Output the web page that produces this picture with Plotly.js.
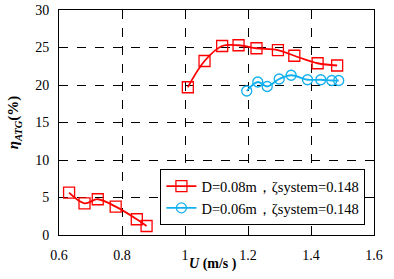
<!DOCTYPE html>
<html><head><meta charset="utf-8">
<script src="https://cdn.plot.ly/plotly-3.0.1.min.js"></script>
<style>html,body{margin:0;padding:0;background:#fff}#c{width:394px;height:279px}</style>
</head><body><div id="c"></div>
<script>
// D=0.08m series (two segments, gap between them)
const redU   = [0.632, 0.681, 0.723, 0.780, 0.847, 0.878, null, 1.009, 1.062, 1.118, 1.170, 1.227, 1.295, 1.347, 1.421, 1.483];
const redEta = [5.65, 4.23, 4.77, 3.78, 2.1, 1.2, null, 19.7, 23.2, 25.2, 25.3, 24.9, 24.65, 23.9, 22.9, 22.6];
// D=0.06m series
const blueU   = [1.196, 1.231, 1.261, 1.299, 1.337, 1.389, 1.431, 1.466, 1.488];
const blueEta = [19.2, 20.4, 19.8, 20.8, 21.3, 20.7, 20.7, 20.6, 20.6];
const seriesNames = ['D=0.08m，ζsystem=0.148', 'D=0.06m，ζsystem=0.148'];
const xTicks = [0.6, 0.8, 1.0, 1.2, 1.4, 1.6];
const xTickText = ['0.6', '0.8', '1', '1.2', '1.4', '1.6'];
const yTicks = [0, 5, 10, 15, 20, 25, 30];

const FONT = '"Liberation Serif", "Times New Roman", serif';
const BLUE = '#12b0ee';
const traces = [
  {x: redU, y: redEta, name: seriesNames[0], type: 'scatter', mode: 'lines+markers',
   connectgaps: false,
   line: {color: '#ff0000', width: 1.8, shape: 'spline', smoothing: 1},
   marker: {symbol: 'square-open', size: 11, color: '#ff0000', line: {width: 1.3}}},
  {x: blueU, y: blueEta, name: seriesNames[1], type: 'scatter', mode: 'lines+markers',
   line: {color: BLUE, width: 1.8, shape: 'spline', smoothing: 1},
   marker: {symbol: 'circle-open', size: 10, color: BLUE, line: {width: 1.3}}}
];
const layout = {
  width: 394, height: 279,
  margin: {l: 59, r: 20, t: 10, b: 44},
  paper_bgcolor: '#fff', plot_bgcolor: '#fff',
  font: {family: FONT, size: 14, color: '#000'},
  showlegend: true,
  legend: {x: 0.322, y: 0.044, xanchor: 'left', yanchor: 'bottom',
    bordercolor: '#000', borderwidth: 1, bgcolor: '#fff',
    font: {family: FONT, size: 14.5, color: '#000'}, tracegroupgap: 0,
    itemwidth: 30},
  xaxis: {range: [0.6, 1.6], tickvals: xTicks, ticktext: xTickText,
    showgrid: true, gridcolor: '#000', griddash: 'dash', gridwidth: 1,
    showline: true, linecolor: '#000', linewidth: 1, mirror: true,
    zeroline: false, ticks: '', ticklabelstandoff: 7,
    tickfont: {family: FONT, size: 14}},
  yaxis: {range: [0, 30], tickvals: yTicks,
    showgrid: true, gridcolor: '#000', griddash: 'dash', gridwidth: 1,
    showline: true, linecolor: '#000', linewidth: 1, mirror: true,
    zeroline: false, ticks: '', ticklabelstandoff: 6,
    tickfont: {family: FONT, size: 14},
    title: {text: '<b><i>η<sub>ATG</sub></i>(%)</b>', font: {family: FONT, size: 15}, standoff: 12}},
  annotations: [
    {text: '<b><i>U</i> (m/s )</b>', xref: 'paper', yref: 'paper', x: 0.489, y: -0.13,
     xanchor: 'center', yanchor: 'middle', showarrow: false,
     font: {family: FONT, size: 14, color: '#000'}}
  ]
};
Plotly.newPlot('c', traces, layout, {displayModeBar: false, staticPlot: true});
</script></body></html>
